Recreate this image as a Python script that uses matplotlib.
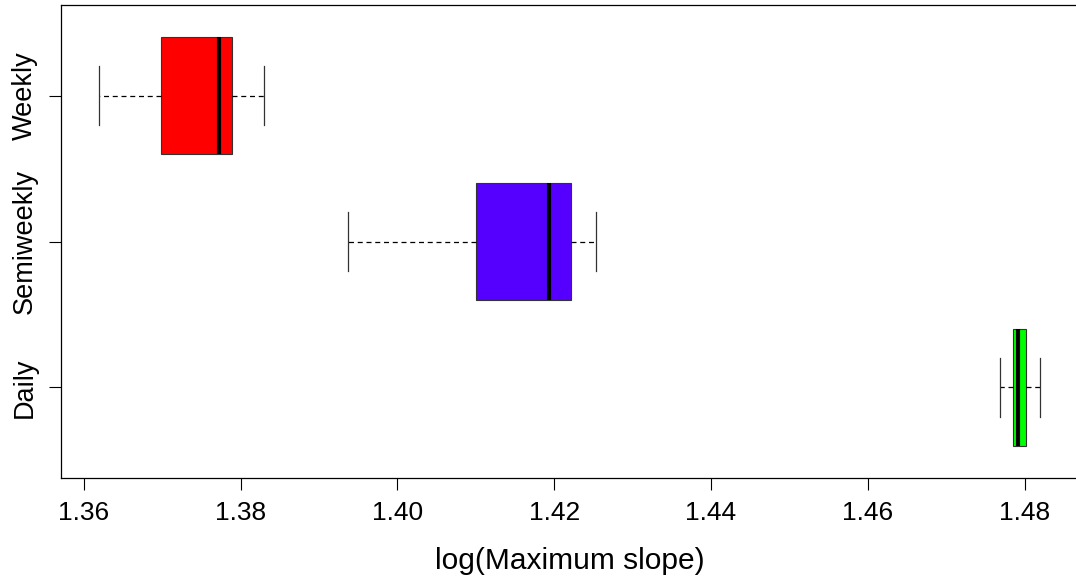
import matplotlib
matplotlib.use("Agg")
import matplotlib.pyplot as plt

plt.rcParams['font.family'] = ['Liberation Sans', 'DejaVu Sans']

# summary statistics of log(max slope) per sampling frequency
groups = ["Daily", "Semiweekly", "Weekly"]
whisker_lo = [1.4769, 1.3937, 1.3619]
q1 = [1.4785, 1.4100, 1.3699]
median = [1.4792, 1.4193, 1.3773]
q3 = [1.4802, 1.4221, 1.3789]
whisker_hi = [1.4820, 1.4253, 1.3830]
colors = ["#00FF00", "#5500FF", "#FF0000"]

xticks = [1.36, 1.38, 1.40, 1.42, 1.44, 1.46, 1.48]

stats = []
for i, g in enumerate(groups):
    stats.append(dict(label=g, whislo=whisker_lo[i], q1=q1[i], med=median[i],
                      q3=q3[i], whishi=whisker_hi[i], fliers=[]))

fig = plt.figure(figsize=(10.76, 5.81), dpi=100)
ax = fig.add_axes([61 / 1076, 103 / 581, 1017 / 1076, 473 / 581])

bp = ax.bxp(stats, positions=[1, 2, 3], widths=0.8, capwidths=0.4,
            orientation='horizontal', patch_artist=True, showfliers=False,
            boxprops=dict(linewidth=0.8, edgecolor="#333333"),
            medianprops=dict(color="black", linewidth=3, solid_capstyle="butt"),
            whiskerprops=dict(color="black", linewidth=0.9, linestyle=(0, (4, 3))),
            capprops=dict(color="#333333", linewidth=0.9))
for patch, c in zip(bp['boxes'], colors):
    patch.set_facecolor(c)

# R style axis ranges (4% padding)
lo = min(whisker_lo)
hi = max(whisker_hi)
pad = (hi - lo) * 0.04
ax.set_xlim(lo - pad, hi + pad)
ax.set_ylim(0.38, 3.62)

ax.set_xticks(xticks)
ax.set_xticklabels(["%.2f" % v for v in xticks])
ax.set_yticks([1, 2, 3])
ax.set_yticklabels(groups, rotation=90, va="center")

ax.tick_params(axis='both', direction='out', length=8.5, width=0.8)
ax.tick_params(axis='x', labelsize=19, pad=8)
ax.tick_params(axis='y', labelsize=19.5, pad=8)
for s in ax.spines.values():
    s.set_linewidth(0.9)

ax.set_xlabel("log(Maximum slope)", fontsize=21.5, labelpad=16)

fig.savefig("out.png", dpi=100)
